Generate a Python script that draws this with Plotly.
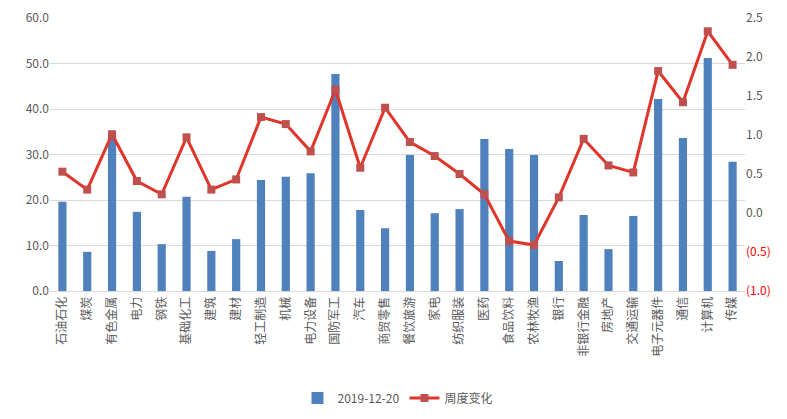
import plotly.graph_objects as go

categories = ["石油石化", "煤炭", "有色金属", "电力", "钢铁", "基础化工", "建筑", "建材",
              "轻工制造", "机械", "电力设备", "国防军工", "汽车", "商贸零售", "餐饮旅游", "家电",
              "纺织服装", "医药", "食品饮料", "农林牧渔", "银行", "非银行金融", "房地产", "交通运输",
              "电子元器件", "通信", "计算机", "传媒"]
bar_values = [19.6, 8.6, 34.3, 17.4, 10.3, 20.7, 8.8, 11.4,
              24.4, 25.1, 25.9, 47.7, 17.8, 13.8, 29.9, 17.1,
              18.0, 33.4, 31.2, 29.9, 6.6, 16.7, 9.2, 16.5,
              42.2, 33.6, 51.2, 28.4]
line_values = [0.53, 0.30, 1.01, 0.41, 0.24, 0.97, 0.30, 0.43,
               1.23, 1.14, 0.79, 1.58, 0.58, 1.35, 0.91, 0.73,
               0.50, 0.24, -0.36, -0.41, 0.20, 0.95, 0.61, 0.52,
               1.82, 1.42, 2.33, 1.90]
bar_name = "2019-12-20"
line_name = "周度变化"
left_ticks = [0, 10, 20, 30, 40, 50, 60]
left_ticktext = ["0.0", "10.0", "20.0", "30.0", "40.0", "50.0", "60.0"]
right_ticks = [-1.0, -0.5, 0.0, 0.5, 1.0, 1.5, 2.0, 2.5]
right_ticktext = ["<span style='color:#FF0000'>(1.0)</span>",
                  "<span style='color:#FF0000'>(0.5)</span>",
                  "0.0", "0.5", "1.0", "1.5", "2.0", "2.5"]

font_family = "Noto Sans CJK SC, Microsoft YaHei, sans-serif"
text_color = "#595959"

fig = go.Figure()
fig.add_trace(go.Bar(
    x=categories, y=bar_values, name=bar_name,
    marker=dict(color="#4F81BD", line=dict(width=0)),
    width=0.33, yaxis="y",
))
fig.add_trace(go.Scatter(
    x=categories, y=line_values, name=line_name, mode="lines+markers",
    line=dict(color="#E0352B", width=3),
    marker=dict(symbol="square", size=8, color="#C0504D", line=dict(width=0)),
    yaxis="y2",
))

fig.update_layout(
    width=787, height=419,
    margin=dict(l=42, r=50, t=10, b=136, autoexpand=False),
    paper_bgcolor="white", plot_bgcolor="white",
    font=dict(family=font_family, size=12, color=text_color),
    showlegend=True,
    legend=dict(orientation="h", x=0.5, xanchor="center",
                yref="container", y=0.069, yanchor="middle",
                font=dict(size=12, color=text_color), traceorder="normal"),
    xaxis=dict(
        type="category", tickangle=-90, showgrid=False, automargin=False,
        showline=True, linecolor="#D9D9D9", linewidth=1,
        ticks="", tickfont=dict(size=12, color=text_color),
        range=[-0.5, len(categories) - 0.5],
    ),
    yaxis=dict(
        range=[0, 60], tickvals=left_ticks, ticktext=left_ticktext, automargin=False,
        showgrid=True, gridcolor="#D9D9D9", gridwidth=1,
        zeroline=False, showline=False, ticks="",
        tickfont=dict(size=12, color=text_color),
    ),
    yaxis2=dict(
        range=[-1.0, 2.5], tickvals=right_ticks, ticktext=right_ticktext, automargin=False,
        overlaying="y", side="right", showgrid=False, zeroline=False,
        showline=False, ticks="", tickfont=dict(size=12, color=text_color),
    ),
)

fig.write_html("out.html")
